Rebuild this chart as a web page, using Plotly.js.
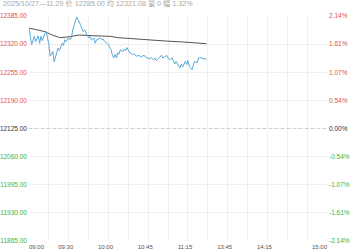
<!DOCTYPE html>
<html>
<head>
<meta charset="utf-8">
<script src="https://cdn.plot.ly/plotly-3.0.1.min.js"></script>
<style>html,body{margin:0;padding:0;background:#fff;}#chart{width:350px;height:250px;}</style>
</head>
<body>
<div id="chart"></div>
<script>
// minute index within session (09:00 = 0; sessions 09:00-10:15, 10:30-11:30, 13:30-15:00)
const priceMinute = [0,2,4,5,7,8,9,10,12,13,14,15,16,18,19,21,22,23,25,26,27,28,30,31,32,33,34,35,36,38,40,41,42,44,45,46,47,49,50,51,52,54,55,56,57,59,60,61,62,63,64,65,66,67,68,69,71,72,73,74,75,76,78,79,80,81,83,84,85,86,88,89,90,91,92,94,95,96,98,99,100,101,103,104,105,106,108,109,110,111,113,114,115,116,118,119,120,121,123,124,125,127,128,129,132,134];
const priceValue = [12358,12319,12338,12326,12339,12322,12338,12328,12345,12349,12334,12319,12292,12303,12279,12303,12311,12305,12322,12317,12330,12326,12335,12330,12334,12353,12364,12370,12383,12371,12356,12349,12353,12338,12334,12338,12330,12334,12322,12330,12332,12334,12330,12332,12326,12322,12319,12312,12307,12294,12288,12296,12288,12300,12297,12307,12303,12309,12305,12312,12305,12300,12296,12297,12296,12292,12294,12292,12289,12294,12292,12288,12286,12286,12289,12284,12288,12282,12288,12292,12294,12288,12292,12294,12288,12284,12288,12282,12274,12280,12269,12265,12274,12267,12280,12273,12282,12269,12261,12273,12280,12277,12288,12289,12287,12285];
const avgMinute = [0,5,8,12,16,20,23,28,33,38,44,51,61,67,79,91,104,116,129,134];
const avgValue = [12357,12353,12351,12349,12343,12338,12335,12336,12338,12341,12340,12339,12338,12335,12332,12330,12327,12325,12323,12321];

const priceLevels = [12385,12320,12255,12190,12125,12060,11995,11930,11865];
const priceLabels = ["12385.00","12320.00","12255.00","12190.00","12125.00","12060.00","11995.00","11930.00","11865.00"];
const pctLabels = ["2.14%","1.61%","1.07%","0.54%","0.00%","-0.54%","-1.07%","-1.61%","-2.14%"];
const prevClose = 12125;

const gridMinutes = [0,15,30,45,60,75,90,105,120,135,150,165,180,195,210,225];
const labelMinutes = [0,30,60,90,120,150,180,225];
const timeLabels = ["09:00","09:30","10:00","10:45","11:15","13:45","14:15","15:00"];

const header = "2025/10/27—11:29 价 12285.00 均 12321.08 量 0 幅 1.32%";

const RED = "#e0514d", GREEN = "#3cb43c", DARK = "#333333";
function colorFor(v){ return v > prevClose ? RED : (v < prevClose ? GREEN : DARK); }
const leftText = priceLevels.map((v,i)=>'<span style="color:'+colorFor(v)+'">'+priceLabels[i]+'</span>');
const rightText = priceLevels.map((v,i)=>'<span style="color:'+colorFor(v)+'">'+pctLabels[i]+'</span>');

const FONT = "Arial, 'Liberation Sans', 'Noto Sans CJK SC', sans-serif";
const yRange = [priceLevels[priceLevels.length-1], priceLevels[0]];
const xRange = [gridMinutes[0], gridMinutes[gridMinutes.length-1]];
const nL = labelMinutes.length;

const traces = [
  {x:xRange, y:[prevClose, prevClose], mode:'lines',
   line:{color:'#cccccc', width:1, dash:'3px,3px'}, hoverinfo:'skip', showlegend:false},
  {x:avgMinute, y:avgValue, mode:'lines', line:{color:'#555555', width:1}, hoverinfo:'skip', showlegend:false},
  {x:priceMinute, y:priceValue, mode:'lines', line:{color:'#5aaad8', width:1}, hoverinfo:'skip', showlegend:false},
  {x:avgMinute, y:avgValue, xaxis:'x2', yaxis:'y2', mode:'lines', opacity:0, line:{width:0}, hoverinfo:'skip', showlegend:false},
  {x:avgMinute, y:avgValue, xaxis:'x3', yaxis:'y', mode:'lines', opacity:0, line:{width:0}, hoverinfo:'skip', showlegend:false},
  {x:avgMinute, y:avgValue, xaxis:'x4', yaxis:'y', mode:'lines', opacity:0, line:{width:0}, hoverinfo:'skip', showlegend:false}
];

const xCommon = {range:xRange, zeroline:false, showline:false, ticks:'', fixedrange:true,
                 tickfont:{size:6, color:'#555'}, ticklabelstandoff:1};

const layout = {
  width:350, height:250,
  margin:{l:29, r:23, t:16, b:9, pad:0},
  paper_bgcolor:'#ffffff', plot_bgcolor:'#ffffff',
  font:{family:FONT, size:6.5, color:'#999'},
  showlegend:false,
  xaxis:Object.assign({}, xCommon, {tickmode:'array', tickvals:gridMinutes,
         ticktext:gridMinutes.map(m=>{const k=labelMinutes.indexOf(m); return (k>0 && k<nL-1) ? timeLabels[k] : '';}),
         showgrid:true, gridcolor:'#efefef', gridwidth:1, ticklabelshift:-3}),
  xaxis2:Object.assign({}, xCommon, {overlaying:'x', tickmode:'array', tickvals:[labelMinutes[0]], ticktext:[timeLabels[0]],
         showgrid:false, ticklabelposition:'outside right'}),
  xaxis3:Object.assign({}, xCommon, {overlaying:'x', tickmode:'array', tickvals:[labelMinutes[nL-1]], ticktext:[timeLabels[nL-1]],
         showgrid:false, ticklabelposition:'outside left'}),
  xaxis4:Object.assign({}, xCommon, {overlaying:'x', showticklabels:false, showgrid:false}),
  yaxis:{range:yRange, tickmode:'array', tickvals:priceLevels, ticktext:leftText,
         showgrid:true, gridcolor:'#efefef', zeroline:false, showline:false, ticks:'',
         tickfont:{size:6.5}, ticklabelstandoff:1, fixedrange:true},
  yaxis2:{range:yRange, overlaying:'y', side:'right', tickmode:'array', tickvals:priceLevels, ticktext:rightText,
          showgrid:false, zeroline:false, showline:false, ticks:'', tickfont:{size:6.5}, ticklabelstandoff:1, fixedrange:true},
  annotations:[{text:header, xref:'paper', yref:'paper', x:0, y:1, xanchor:'left', yanchor:'bottom',
                xshift:-28, yshift:6, showarrow:false, font:{size:7.2, color:'#a8a8a8', family:FONT}}]
};

Plotly.newPlot('chart', traces, layout, {displayModeBar:false, staticPlot:true});
</script>
</body>
</html>
